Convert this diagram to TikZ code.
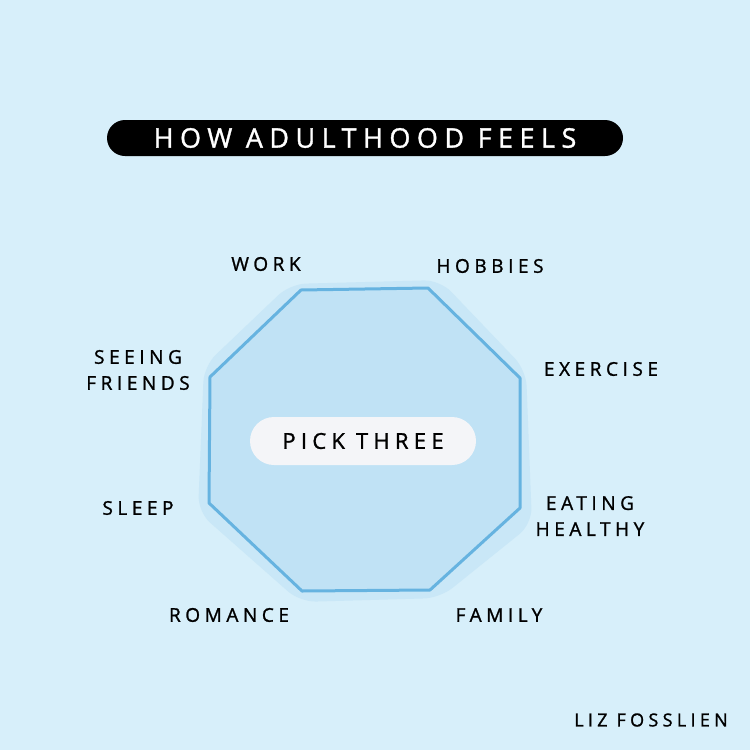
\documentclass[tikz,border=0pt]{standalone}
\usepackage{fontspec}
\setmainfont{Open Sans}
\usetikzlibrary{positioning}
\definecolor{skybg}{HTML}{D7EFFA}
\definecolor{octfill}{HTML}{C0E2F5}
\definecolor{octline}{HTML}{66B3E0}
\definecolor{blobfill}{HTML}{C9E7F7}
\definecolor{pillgray}{HTML}{F4F5F8}
\newfontfamily\handfont[LetterSpace=24, FakeBold=1.2]{Open Sans}
\tikzset{
  choice/.style={font=\handfont\fontsize{19}{26}\selectfont, align=center, text=black},
  pill/.style={rounded corners=18pt, inner sep=0pt}
}

\begin{document}
\begin{tikzpicture}[x=1pt,y=-1pt]
    \fill[skybg] (0,0) rectangle (750,750);
    \useasboundingbox (0,0) rectangle (750,750);

    % title bar
    \node[pill, fill=black, text=white, minimum width=516, minimum height=36,
      font=\handfont\fontsize{27}{30}\selectfont] (title) at (365,138) {HOW ADULTHOOD FEELS};

    % soft blob behind the octagon
    \fill[blobfill, rounded corners=16pt] (290,284) -- (440,280) -- (526,370) -- (532,524)
      -- (440,598) -- (300,602) -- (198,512) -- (204,366) -- cycle;

    % octagon
    \coordinate (tl) at (301,290);
    \coordinate (tr) at (428,288);
    \coordinate (ru) at (520,378);
    \coordinate (rd) at (520,508);
    \coordinate (br) at (430,590);
    \coordinate (bl) at (302,591);
    \coordinate (ld) at (209,503);
    \coordinate (lu) at (210,377);
    \draw[octline, fill=octfill, line width=3pt, line join=round]
      (tl) -- (tr) -- (ru) -- (rd) -- (br) -- (bl) -- (ld) -- (lu) -- cycle;

    % centre label
    \node[pill, rounded corners=24pt, fill=pillgray, minimum width=226, minimum height=48,
      choice, font=\handfont\fontsize{22}{26}\selectfont] (pick) at (363,441) {PICK THREE};

    % the eight choices
    \node[choice] (work) at (266,264) {WORK};
    \node[choice] (hobbies) at (490,266) {HOBBIES};
    \node[choice] (friends) at (138,370) {SEEING\\FRIENDS};
    \node[choice] (exercise) at (601,369) {EXERCISE};
    \node[choice] (eating) at (590,516) {EATING\\HEALTHY};
    \node[choice] (sleep) at (138,508) {SLEEP};
    \node[choice] (romance) at (229,615) {ROMANCE};
    \node[choice] (family) at (499,615) {FAMILY};

    % signature
    \node[choice, font=\handfont\fontsize{18}{22}\selectfont] (sig) at (651,720) {LIZ FOSSLIEN};

  \end{tikzpicture}
\end{document}
